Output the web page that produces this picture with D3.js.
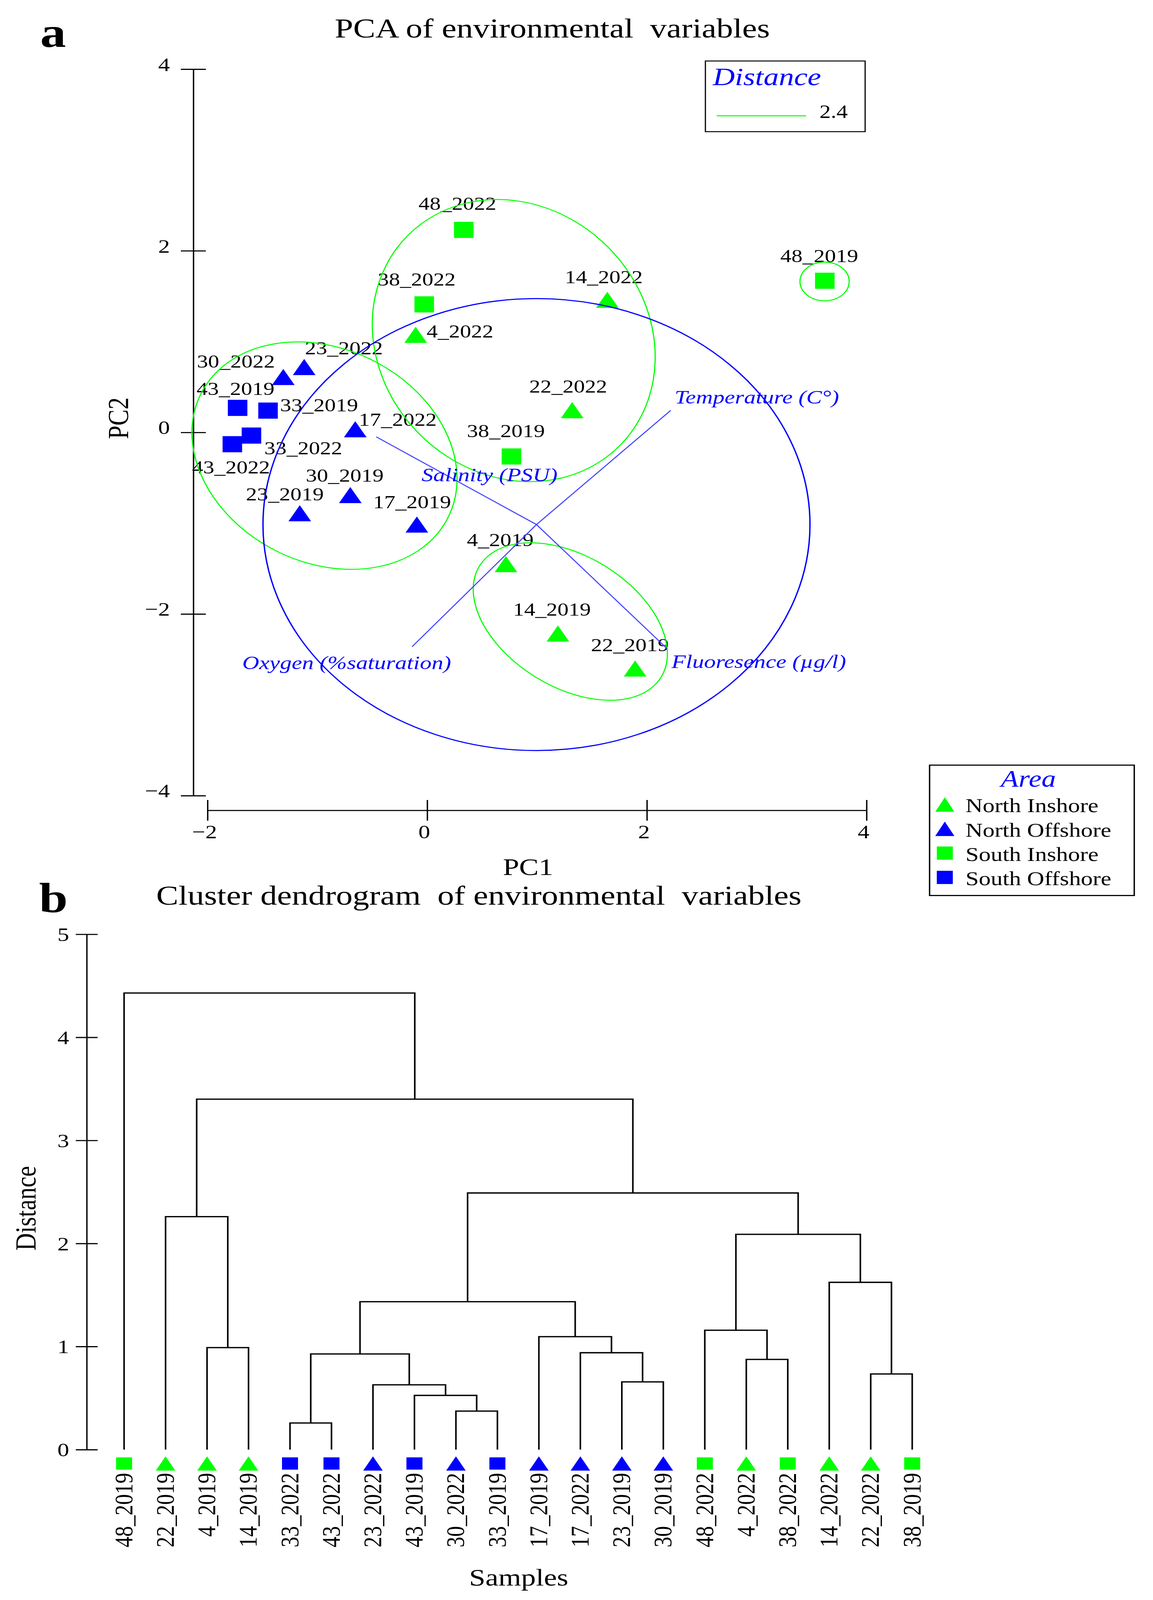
<!DOCTYPE html>
<html><head><meta charset="utf-8">
<script src="https://cdn.jsdelivr.net/npm/d3@7"></script>
<style>
html,body{margin:0;padding:0;background:#fff;overflow:hidden;}
svg{display:block;background:#fff;}
text{font-family:"Liberation Serif","Times New Roman",Times,serif;white-space:pre;}
</style></head><body>
<svg id="chart"></svg>
<script>
// ---------------- Panel a: PCA data ----------------
const sampleNames = ["48_2022","38_2022","4_2022","14_2022","22_2022","38_2019","48_2019","23_2022","30_2022","43_2019","33_2019","17_2022","33_2022","43_2022","30_2019","23_2019","17_2019","4_2019","14_2019","22_2019"];
const pc1 = [0.333,-0.027,-0.105,1.64,1.32,0.767,3.62,-1.12,-1.31,-1.726,-1.449,-0.655,-1.6,-1.774,-0.70,-1.16,-0.094,0.717,1.19,1.893];
const pc2 = [2.23,1.41,1.075,1.46,0.245,-0.265,1.67,0.72,0.61,0.27,0.24,0.035,-0.035,-0.13,-0.69,-0.89,-1.015,-1.45,-2.215,-2.60];
const sampleArea = ["South Inshore","South Inshore","North Inshore","North Inshore","North Inshore","South Inshore","South Inshore","North Offshore","North Offshore","South Offshore","South Offshore","North Offshore","South Offshore","South Offshore","North Offshore","North Offshore","North Offshore","North Inshore","North Inshore","North Inshore"];
const areaNames = ["North Inshore","North Offshore","South Inshore","South Offshore"];
const pcXTicks = [-2,0,2,4];
const pcYTicks = [-4,-2,0,2,4];

// cluster outlines (distance 2.4), data units
const clusterCx = [0.788,-0.935,1.303,3.618];
const clusterCy = [1.011,-0.256,-2.083,1.662];
const clusterRx = [1.262,1.351,1.040,0.224];
const clusterRy = [1.574,1.095,0.672,0.213];
const clusterAngle = [-15.8,50.2,43.7,0];

// variable vectors (biplot), data units
const varNames = ["Temperature (C°)","Salinity (PSU)","Oxygen (%saturation)","Fluoresence (µg/l)"];
const varCenter = [0.995,-1.015];
const varEndX = [2.217,-0.464,-0.138,2.185];
const varEndY = [0.242,-0.049,-2.361,-2.382];
const circleRadius = 2.49;
const distanceCut = "2.4";

// ---------------- Panel b: dendrogram data ----------------
const leafOrder = ["48_2019","22_2019","4_2019","14_2019","33_2022","43_2022","23_2022","43_2019","30_2022","33_2019","17_2019","17_2022","23_2019","30_2019","48_2022","4_2022","38_2022","14_2022","22_2022","38_2019"];
const leafArea = ["South Inshore","North Inshore","North Inshore","North Inshore","South Offshore","South Offshore","North Offshore","South Offshore","North Offshore","South Offshore","North Offshore","North Offshore","North Offshore","North Offshore","South Inshore","North Inshore","South Inshore","North Inshore","North Inshore","South Inshore"];
const mergeA = ["30_2022","43_2019","23_2022","33_2022","m3","23_2019","17_2022","17_2019","m4","4_2022","48_2022","22_2022","14_2022","m10","m8","4_2019","22_2019","m16","48_2019"];
const mergeB = ["33_2019","m0","m1","43_2022","m2","30_2019","m5","m6","m7","38_2022","m9","38_2019","m11","m12","m13","14_2019","m15","m14","m17"];
const mergeHeight = [0.374,0.526,0.629,0.258,0.928,0.657,0.94,1.096,1.435,0.875,1.158,0.734,1.623,2.089,2.49,0.99,2.26,3.40,4.43];
const distTicks = [0,1,2,3,4,5];

// ---------------- layout / style (not data) ----------------
const W = 2952, H = 4958;
const labelDX = [-116,-119,28,-109,-110,-114,-114,2,-221,-105,31,9,33,-103,-114,-138,-112,-100,-115,-113];
const labelDY = [-62,-58,8,-52,-54,-60,-58,-40,-29,-40,2,-11,58,91,-42,-40,-51,-56,-56,-54];
const varLabelDX = [10,116,100,11];
const varLabelDY = [-21,137,69,60];
const varLabelAnchor = ["start","start","end","start"];
const GREEN = "#00ff00", BLUE = "#0000ff";
const areaColor = {"North Inshore":GREEN,"North Offshore":BLUE,"South Inshore":GREEN,"South Offshore":BLUE};
const areaShape = {"North Inshore":"tri","North Offshore":"tri","South Inshore":"sq","South Offshore":"sq"};
const serif = '"Liberation Serif","Times New Roman",Times,serif';

// fit the full 2952x4958 drawing into whatever viewport the browser really has
const vw = window.innerWidth || W, vh = window.innerHeight || H;
const svg = d3.select("#chart").attr("width",vw).attr("height",vh)
  .attr("viewBox",`0 0 ${W} ${H}`).attr("preserveAspectRatio","none");
svg.append("rect").attr("width",W).attr("height",H).attr("fill","#fff");

function marker(g, shape, color, w, h){
  if(shape==="sq"){
    g.append("rect").attr("x",-w/2).attr("y",-h/2).attr("width",w).attr("height",h).attr("fill",color);
  } else {
    g.append("path").attr("d",`M0,${-h/2}L${w/2},${h/2}L${-w/2},${h/2}Z`).attr("fill",color);
  }
}

// ================= Panel a =================
svg.append("text").attr("x",103).attr("y",145).attr("font-size",132).attr("font-weight","bold").text("a");
svg.append("text").attr("x",857).attr("y",116).attr("font-size",85).text("PCA of environmental  variables");

const x = d3.scaleLinear().domain([-2,4]).range([531.3,2218.6]);
const y = d3.scaleLinear().domain([-4,4]).range([2465.5,214.3]);
const intFmt = d3.format("d");

const yAx = svg.append("g").attr("transform","translate(495,0)")
  .call(d3.axisLeft(y).tickValues(pcYTicks).tickFormat(intFmt).tickSizeOuter(0));
const xAx = svg.append("g").attr("transform","translate(0,2511)")
  .call(d3.axisBottom(x).tickValues(pcXTicks).tickFormat(intFmt).tickSizeOuter(0));
[yAx,xAx].forEach(a=>{
  a.select(".domain").attr("stroke","#000").attr("stroke-width",3.5);
  a.selectAll(".tick line").attr("stroke","#000").attr("stroke-width",3.5);
  a.selectAll("text").attr("font-size",60).attr("font-family",serif).attr("fill","#000");
});
yAx.selectAll(".tick line").attr("x1",-32).attr("x2",32);
yAx.selectAll(".tick text").attr("x",-60).attr("dy",5).attr("text-anchor","end");
xAx.selectAll(".tick line").attr("y1",-32).attr("y2",32);
xAx.selectAll(".tick text").attr("x",-8).attr("y",87).attr("dy",0).attr("text-anchor","middle");

svg.append("text").attr("x",1352).attr("y",2712).attr("text-anchor","middle").attr("font-size",75).text("PC1");
svg.append("text").attr("transform","translate(328,1296) rotate(-90)").attr("text-anchor","middle").attr("font-size",75).text("PC2");

// points
const pts = svg.append("g");
sampleNames.forEach((n,i)=>{
  const g = pts.append("g").attr("transform",`translate(${x(pc1[i])},${y(pc2[i])})`);
  marker(g, areaShape[sampleArea[i]], areaColor[sampleArea[i]], areaShape[sampleArea[i]]==="sq"?50:58, 50);
  g.append("text").attr("x",labelDX[i]).attr("y",labelDY[i]).attr("font-size",57).attr("fill","#000").text(n);
});

// cluster outlines
clusterCx.forEach((cx,i)=>{
  svg.append("ellipse")
    .attr("transform",`translate(${x(cx)},${y(clusterCy[i])}) rotate(${clusterAngle[i]})`)
    .attr("rx",x(cx+clusterRx[i])-x(cx)).attr("ry",y(clusterCy[i]-clusterRy[i])-y(clusterCy[i]))
    .attr("fill","none").attr("stroke",GREEN).attr("stroke-width",3);
});
// correlation circle
svg.append("circle").attr("cx",x(varCenter[0])).attr("cy",y(varCenter[1]))
  .attr("r",x(varCenter[0]+circleRadius)-x(varCenter[0]))
  .attr("fill","none").attr("stroke",BLUE).attr("stroke-width",3.5);
// vectors
varNames.forEach((v,i)=>{
  svg.append("line").attr("x1",x(varCenter[0])).attr("y1",y(varCenter[1]))
    .attr("x2",x(varEndX[i])).attr("y2",y(varEndY[i]))
    .attr("stroke","#4444ff").attr("stroke-width",3);
  svg.append("text").attr("x",x(varEndX[i])+varLabelDX[i]).attr("y",y(varEndY[i])+varLabelDY[i])
    .attr("text-anchor",varLabelAnchor[i]).attr("font-size",60).attr("font-style","italic")
    .attr("fill",BLUE).text(v);
});

// Distance legend
svg.append("rect").attr("x",1806).attr("y",189).attr("width",409).attr("height",219)
  .attr("fill","none").attr("stroke","#000").attr("stroke-width",3);
svg.append("text").attr("x",1825).attr("y",264).attr("font-size",78).attr("font-style","italic").attr("fill",BLUE).text("Distance");
svg.append("line").attr("x1",1835).attr("x2",2064).attr("y1",359).attr("y2",359).attr("stroke",GREEN).attr("stroke-width",3);
svg.append("text").attr("x",2098).attr("y",366).attr("font-size",58).text(distanceCut);

// Area legend
svg.append("rect").attr("x",2380).attr("y",2371).attr("width",524).attr("height",404)
  .attr("fill","none").attr("stroke","#000").attr("stroke-width",3.5);
svg.append("text").attr("x",2633).attr("y",2438).attr("text-anchor","middle").attr("font-size",74)
  .attr("font-style","italic").attr("fill",BLUE).text("Area");
areaNames.forEach((a,i)=>{
  const by = 2517 + i*75.3;
  const g = svg.append("g").attr("transform",`translate(2419,${by-24})`);
  marker(g, areaShape[a], areaColor[a], areaShape[a]==="sq"?41:49, areaShape[a]==="sq"?41:45);
  svg.append("text").attr("x",2472).attr("y",by).attr("font-size",61).text(a);
});

// ================= Panel b =================
svg.append("text").attr("x",100).attr("y",2826).attr("font-size",132).attr("font-weight","bold").text("b");
svg.append("text").attr("x",400).attr("y",2803).attr("font-size",85).text("Cluster dendrogram  of environmental  variables");

const xd = d3.scalePoint().domain(leafOrder).range([317.7,2335.5]);
const yd = d3.scaleLinear().domain([0,5]).range([4492,2895]);

const dAx = svg.append("g").attr("transform","translate(222,0)")
  .call(d3.axisLeft(yd).tickValues(distTicks).tickFormat(intFmt).tickSizeOuter(0));
dAx.select(".domain").attr("stroke","#000").attr("stroke-width",3.5);
dAx.selectAll(".tick line").attr("stroke","#000").attr("stroke-width",3.5).attr("x1",-28).attr("x2",28);
dAx.selectAll(".tick text").attr("font-size",60).attr("font-family",serif)
  .attr("fill","#000").attr("x",-45).attr("dy","0.34em").attr("text-anchor","end");

svg.append("text").attr("transform","translate(91,3744) rotate(-90)").attr("text-anchor","middle").attr("font-size",75).text("Distance");
svg.append("text").attr("x",1328).attr("y",4913).attr("text-anchor","middle").attr("font-size",75).text("Samples");

// node positions (merge x = midpoint of its two children)
const nodeX = {}, nodeH = {};
leafOrder.forEach(l=>{ nodeX[l]=xd(l); nodeH[l]=0; });
mergeA.forEach((a,i)=>{
  const b = mergeB[i], id = "m"+i;
  nodeX[id] = (nodeX[a]+nodeX[b])/2; nodeH[id] = mergeHeight[i];
});
const dg = svg.append("g").attr("fill","none").attr("stroke","#000").attr("stroke-width",4).attr("stroke-linejoin","miter");
mergeA.forEach((a,i)=>{
  const b = mergeB[i], h = mergeHeight[i];
  const p = d3.path();
  p.moveTo(nodeX[a], yd(nodeH[a]));
  p.lineTo(nodeX[a], yd(h));
  p.lineTo(nodeX[b], yd(h));
  p.lineTo(nodeX[b], yd(nodeH[b]));
  dg.append("path").attr("d",p.toString());
});

// leaf markers and labels
leafOrder.forEach((l,i)=>{
  const a = leafArea[i];
  const g = svg.append("g").attr("transform",`translate(${xd(l)},4535)`);
  marker(g, areaShape[a], areaColor[a], areaShape[a]==="sq"?41:50, areaShape[a]==="sq"?38:44);
  svg.append("text").attr("transform",`translate(${xd(l)+21},4564) rotate(-90)`)
    .attr("text-anchor","end").attr("font-size",66).text(l);
});
</script>
</body></html>
